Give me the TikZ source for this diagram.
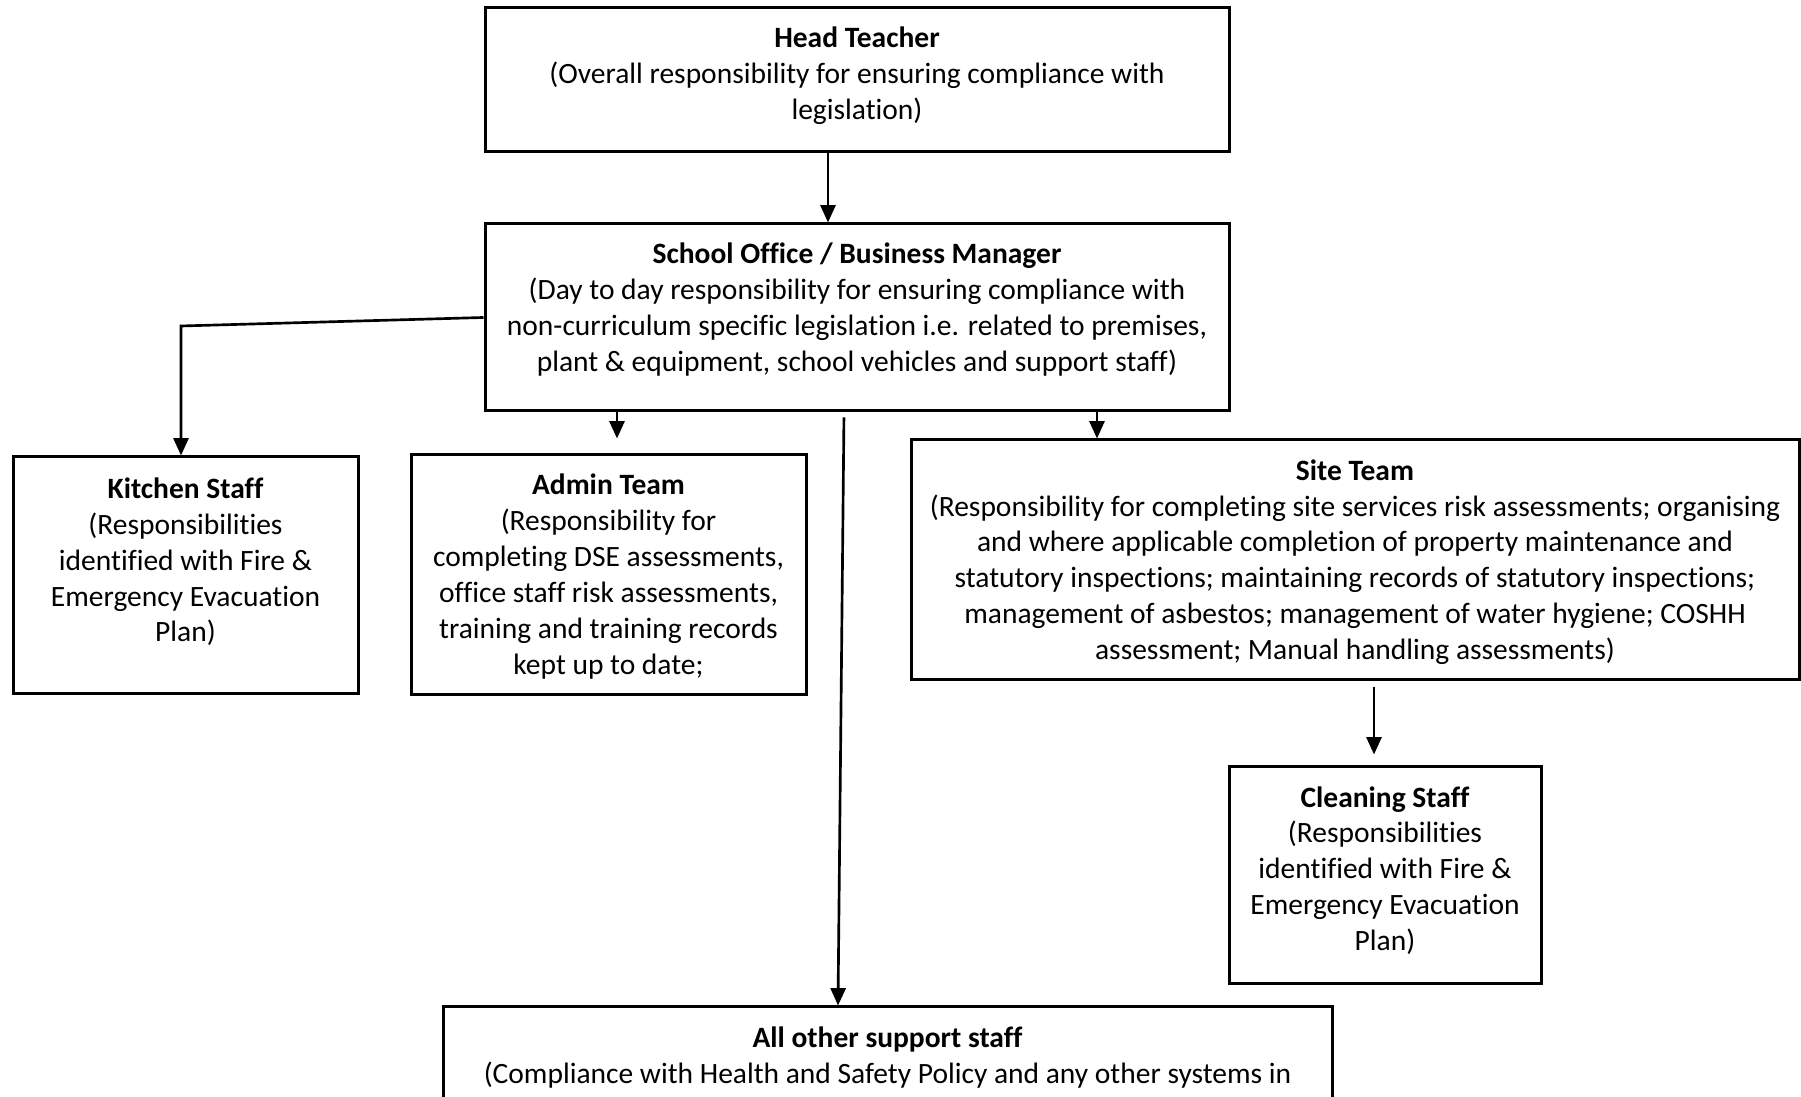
\documentclass[tikz,border=0pt]{standalone}
\usepackage{fontspec}
\setmainfont[Ligatures=NoCommon]{Carlito}
\usetikzlibrary{arrows.meta}
\begin{document}
\begin{tikzpicture}[x=0.3pt,y=-0.3pt,
  box/.style={draw, line width=0.9pt, inner sep=0pt},
  txt/.style={align=center, inner sep=0pt, font=\fontsize{8.85}{10.75}\selectfont},
  arr/.style={line width=0.8pt, -{Triangle[length=5.2pt,width=4.5pt]}}]
\clip (0,0) rectangle (1801,1097);
% boxes
\node[box, minimum width=223.2pt, minimum height=43.2pt] (head) at (857,80) {};
\node[box, minimum width=223.2pt, minimum height=56.1pt] (office) at (857,317.5) {};
\node[box, minimum width=103.5pt, minimum height=71.1pt] (kitchen) at (185.5,575.5) {};
\node[box, minimum width=118.5pt, minimum height=72pt] (admin) at (608.5,575) {};
\node[box, minimum width=266.4pt, minimum height=72pt] (site) at (1355,560) {};
\node[box, minimum width=93.6pt, minimum height=65.1pt] (cleaning) at (1385,875.5) {};
\node[box, minimum width=266.7pt, minimum height=57.9pt] (allother) at (887.5,1103.5) {};
% texts
\node[txt] (headt) at (857,76) {\textbf{Head Teacher}\\(Overall responsibility for ensuring compliance with\\legislation)};
\node[txt] (officet) at (857,309.5) {\textbf{School Office / Business Manager}\\(Day to day responsibility for ensuring compliance with\\non-curriculum specific legislation i.e. related to premises,\\plant \& equipment, school vehicles and support staff)};
\node[txt] (kitchent) at (185.5,562) {\textbf{Kitchen Staff}\\(Responsibilities\\identified with Fire \&\\Emergency Evacuation\\Plan)};
\node[txt] (admint) at (608.5,576.5) {\textbf{Admin Team}\\(Responsibility for\\completing DSE assessments,\\office staff risk assessments,\\training and training records\\kept up to date;};
\node[txt] (sitet) at (1355,562) {\textbf{Site Team}\\(Responsibility for completing site services risk assessments; organising\\and where applicable completion of property maintenance and\\statutory inspections; maintaining records of statutory inspections;\\management of asbestos; management of water hygiene; COSHH\\assessment; Manual handling assessments)};
\node[txt] (cleaningt) at (1385,870.5) {\textbf{Cleaning Staff}\\(Responsibilities\\identified with Fire \&\\Emergency Evacuation\\Plan)};
\node[txt, anchor=north] (allothert) at (887.5,1026) {\textbf{All other support staff}\\(Compliance with Health and Safety Policy and any other systems in};
% connectors
\coordinate (xa) at (828,0);
\coordinate (xk) at (181,326);
\coordinate (xd) at (617,0);
\coordinate (xs) at (1097,0);
\coordinate (xo1) at (844,0);
\coordinate (xo2) at (838,0);
\coordinate (xc) at (1374,0);
\draw[arr] (head.south -| xa) -- (office.north -| xa);
\draw[arr] (office.west) -- (xk) -- (kitchen.north -| xk);
\draw[arr, shorten >=4.5pt] (office.south -| xd) -- (admin.north -| xd);
\draw[arr] (office.south -| xs) -- (site.north -| xs);
\draw[arr, shorten <=1.5pt] (office.south -| xo1) -- (allother.north -| xo2);
\draw[arr, shorten <=1.8pt, shorten >=3.3pt] (site.south -| xc) -- (cleaning.north -| xc);
\end{tikzpicture}
\end{document}
